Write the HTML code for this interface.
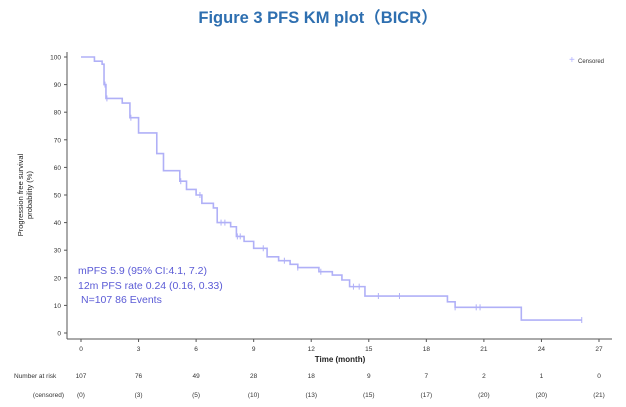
<!DOCTYPE html>
<html><head><meta charset="utf-8"><style>
body{margin:0;background:#fff;}
svg{display:block;font-family:"Liberation Sans",Arial,sans-serif;}
</style></head><body>
<svg width="626" height="407" viewBox="0 0 626 407">
<text x="318" y="23" text-anchor="middle" font-size="16.5" font-weight="bold" fill="#2e6fb0" font-family="'Liberation Sans','Noto Sans CJK SC',sans-serif">Figure 3  PFS KM plot（BICR）</text>
<g id="axes"></g>
<g id="curve"></g>
<g>
<text x="569" y="63" font-size="10" fill="#b0b0ff">+</text>
<text x="578" y="63" font-size="6" fill="#333">Censored</text>
</g>
<text transform="translate(23,195) rotate(-90)" text-anchor="middle" font-size="7.5" fill="#222"><tspan x="0" dy="0">Progression free survival</tspan><tspan x="0" dy="9">probability (%)</tspan></text>
<text x="340" y="362" text-anchor="middle" font-size="8" fill="#222" font-weight="bold">Time (month)</text>
<g font-size="10.5" fill="#5b5bd6">
<text x="78" y="274">mPFS 5.9 (95% CI:4.1, 7.2)</text>
<text x="78" y="289">12m PFS rate 0.24 (0.16, 0.33)</text>
<text x="81" y="303">N=107 86 Events</text>
</g>
<text x="14" y="378" font-size="6.5" fill="#333">Number at risk</text>
<text x="64" y="397" font-size="6.5" fill="#333" text-anchor="end">(censored)</text>
<g id="risk"></g>
</svg>
<script>
const times=[0,0.7,1.1,1.2,1.3,2.15,2.55,3.0,3.95,4.3,5.15,5.5,6.0,6.3,6.9,7.1,7.8,8.1,8.5,9.0,9.7,10.3,10.9,11.3,12.4,13.1,13.6,14.0,14.8,19.1,19.5,22.95];
const surv=[100,98.5,97.4,90,85,83.3,78,72.5,65,58.8,55,52,50,47,45.3,40,38.5,35,33.2,30.7,27.6,26.2,24.9,23.7,22.2,21,19.2,16.8,13.4,11.3,9.3,4.7];
const endTime=26.1;
const censorTimes=[1.25,1.35,2.6,5.2,6.2,7.3,7.5,8.15,8.3,9.5,10.6,11.3,12.5,14.2,14.5,15.5,16.6,19.5,20.6,20.8,26.1];
const xTicks=[0,3,6,9,12,15,18,21,24,27];
const yTicks=[0,10,20,30,40,50,60,70,80,90,100];
const atRisk=[107,76,49,28,18,9,7,2,1,0];
const censoredCounts=[0,3,5,10,13,15,17,20,20,21];
const X=t=>81+t*(599-81)/27;
const Y=v=>333-v*2.76;
const NS="http://www.w3.org/2000/svg";
function mk(tag,attrs,parent,txt){const e=document.createElementNS(NS,tag);for(const k in attrs)e.setAttribute(k,attrs[k]);if(txt!==undefined)e.textContent=txt;parent.appendChild(e);return e;}
const ax=document.getElementById('axes');
let l=mk('line',{x1:67,y1:52,x2:67,y2:339,stroke:'#555','stroke-width':1},ax);


l=mk('line',{x1:67,y1:339,x2:612,y2:339,stroke:'#555','stroke-width':1},ax);


yTicks.forEach(v=>{mk('line',{x1:64,x2:67,y1:Y(v),y2:Y(v),stroke:'#555'},ax);
const t=mk('text',{x:61,y:Y(v)+2.5,'text-anchor':'end','font-size':6.5,fill:'#333'},ax,v);

});
xTicks.forEach(v=>{mk('line',{x1:X(v),x2:X(v),y1:339,y2:342,stroke:'#555'},ax);
const t=mk('text',{x:X(v),y:351,'text-anchor':'middle','font-size':6.5,fill:'#333'},ax,v);

});
const cv=document.getElementById('curve');
let d='M'+X(times[0])+','+Y(surv[0]);
for(let i=1;i<times.length;i++){d+=' H'+X(times[i])+' V'+Y(surv[i]);}
d+=' H'+X(endTime);
const p=mk('path',{d:d,fill:'none',stroke:'#b0b0f7','stroke-width':1.6},cv);


function survAt(t){let s=surv[0];for(let i=0;i<times.length;i++){if(times[i]<=t)s=surv[i];}return s;}
censorTimes.forEach(t=>{const y=Y(survAt(t));
const m=mk('line',{x1:X(t),x2:X(t),y1:y-3,y2:y+3,stroke:'#b0b0f7','stroke-width':1},cv);

});
const rk=document.getElementById('risk');
xTicks.forEach((v,i)=>{const a=mk('text',{x:X(v),y:378,'text-anchor':'middle','font-size':6.5,fill:'#333'},rk,atRisk[i]);


const c=mk('text',{x:X(v),y:397,'text-anchor':'middle','font-size':6.5,fill:'#333'},rk,'('+censoredCounts[i]+')');

});
</script>
</body></html>
